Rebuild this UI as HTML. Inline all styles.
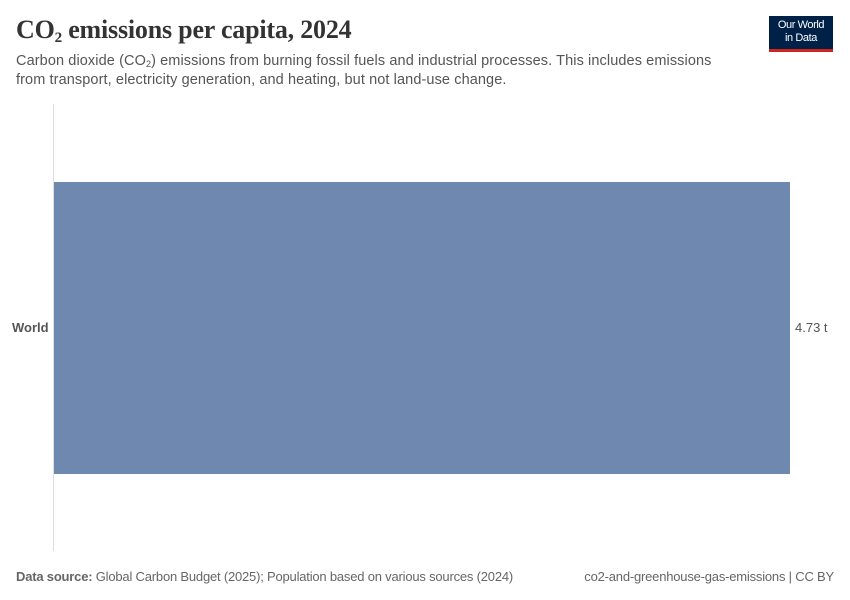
<!DOCTYPE html>
<html><head><meta charset="utf-8"><style>
body{margin:0;width:850px;height:600px;background:#fff;position:relative;font-family:"Liberation Sans",sans-serif;overflow:hidden}
.a{position:absolute;white-space:nowrap}
sub{line-height:0}
</style></head><body>
<div class="a" style="left:16px;top:15px;font-family:'Liberation Serif',serif;font-size:26px;font-weight:bold;color:#333;letter-spacing:-0.2px">CO<sub style="font-size:15px;vertical-align:-4px">2</sub> emissions per capita, 2024</div>
<div class="a" style="left:16px;top:52px;font-size:14.5px;line-height:19px;color:#555;letter-spacing:0.1px">Carbon dioxide (CO<sub style="font-size:9px;vertical-align:-2px">2</sub>) emissions from burning fossil fuels and industrial processes. This includes emissions<br>from transport, electricity generation, and heating, but not land-use change.</div>
<div class="a" style="left:769px;top:16px;width:64px;height:33px;background:#002147;color:#fff;font-size:11px;line-height:13px;text-align:center;padding-top:3px;box-sizing:border-box;letter-spacing:-0.4px">Our World<br>in Data</div>
<div class="a" style="left:769px;top:49px;width:64px;height:3px;background:#ce261e"></div>
<div class="a" style="left:53px;top:104px;width:1px;height:447px;background:#ddd"></div>
<div class="a" style="left:54px;top:182px;width:736px;height:292px;background:#6f88b0"></div>
<div class="a" style="left:12px;top:320px;font-size:13px;font-weight:bold;color:#555">World</div>
<div class="a" style="left:795px;top:320px;font-size:13px;color:#555">4.73 t</div>
<div class="a" style="left:16px;top:569px;font-size:13px;color:#666;letter-spacing:-0.2px"><b>Data source:</b> Global Carbon Budget (2025); Population based on various sources (2024)</div>
<div class="a" style="right:16px;top:569px;font-size:13px;color:#666;letter-spacing:-0.2px">co2-and-greenhouse-gas-emissions | CC BY</div>
</body></html>
